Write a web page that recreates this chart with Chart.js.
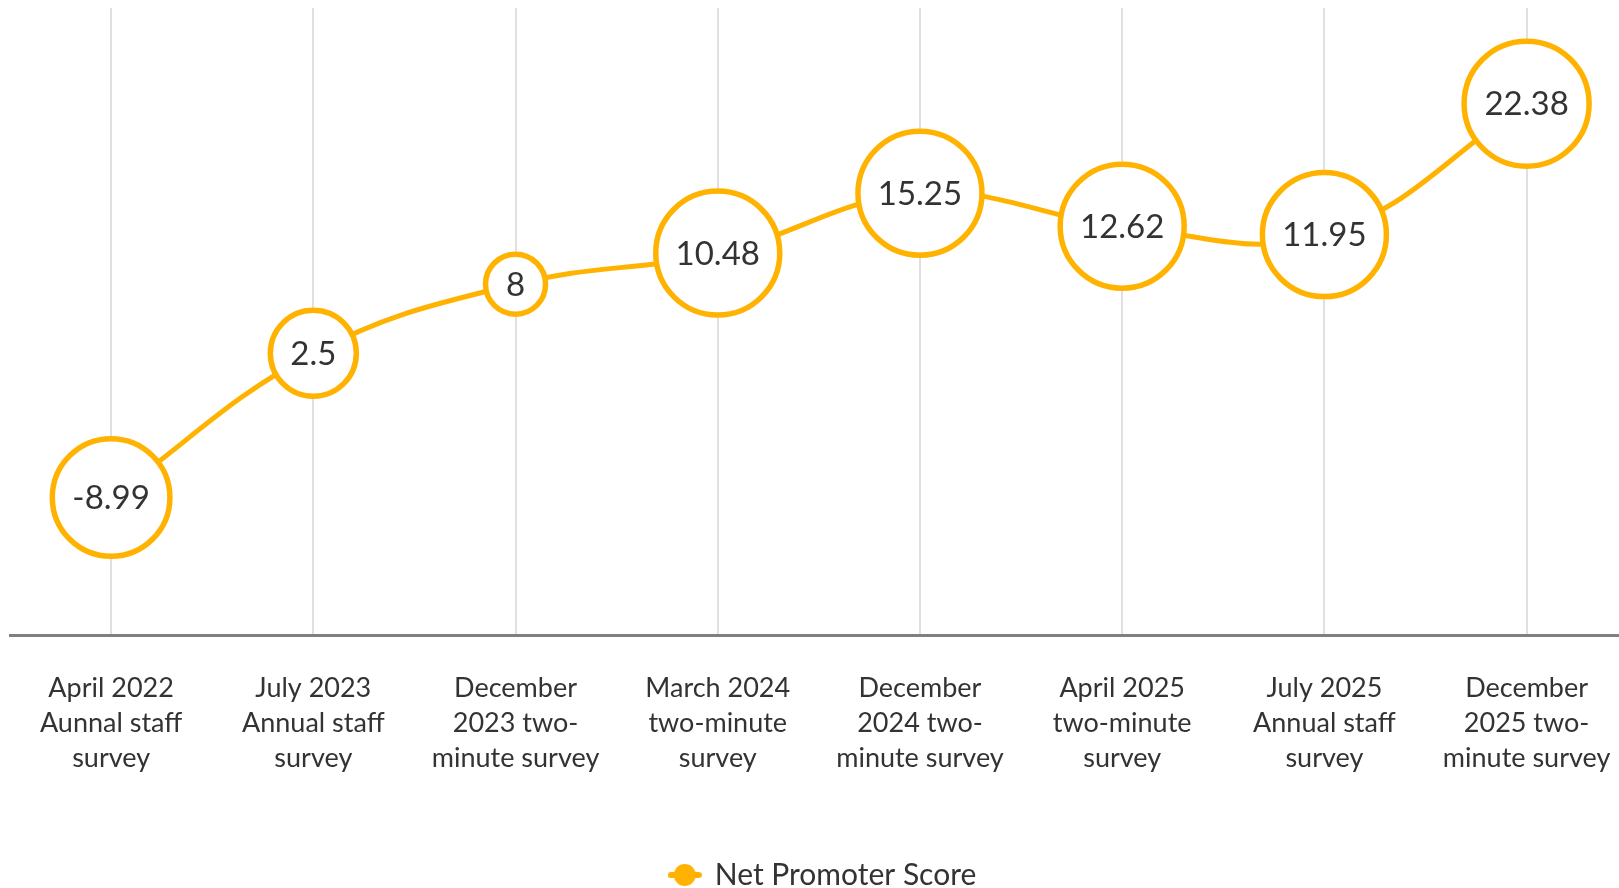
<!DOCTYPE html>
<html>
<head>
<meta charset="utf-8">
<script src="https://cdn.jsdelivr.net/npm/chart.js@4.4.1/dist/chart.umd.min.js"></script>
<style>
  html, body { margin: 0; padding: 0; background: #fff; overflow: hidden; }
  #wrap { position: relative; width: 1646px; height: 900px; }
</style>
</head>
<body>
<div id="wrap"><canvas id="c"></canvas></div>
<script>
const categories = [
  ["April 2022", "Aunnal staff", "survey"],
  ["July 2023", "Annual staff", "survey"],
  ["December", "2023 two-", "minute survey"],
  ["March 2024", "two-minute", "survey"],
  ["December", "2024 two-", "minute survey"],
  ["April 2025", "two-minute", "survey"],
  ["July 2025", "Annual staff", "survey"],
  ["December", "2025 two-", "minute survey"]
];
const npsValues = [-8.99, 2.5, 8, 10.48, 15.25, 12.62, 11.95, 22.38];
const seriesName = "Net Promoter Score";

const ORANGE = "#FFB300";
const TEXT = "#333333";
const FONT = "Lato, 'Open Sans', sans-serif";
const pointRadii = [58.8, 43, 30, 62, 62, 62, 62, 62.5];

// legend marker: short line with a filled dot
const marker = document.createElement("canvas");
marker.width = 34; marker.height = 24;
(function () {
  const m = marker.getContext("2d");
  m.strokeStyle = ORANGE; m.lineWidth = 6; m.lineCap = "round";
  m.beginPath(); m.moveTo(3, 12); m.lineTo(31, 12); m.stroke();
  m.fillStyle = ORANGE;
  m.beginPath(); m.arc(17, 12, 11, 0, Math.PI * 2); m.fill();
})();

const valueLabels = {
  id: "valueLabels",
  afterDatasetsDraw(chart) {
    const ctx = chart.ctx;
    const meta = chart.getDatasetMeta(0);
    ctx.save();
    ctx.fillStyle = TEXT;
    ctx.font = "33px " + FONT;
    ctx.textAlign = "center";
    ctx.textBaseline = "middle";
    meta.data.forEach((pt, i) => {
      ctx.fillText(String(chart.data.datasets[0].data[i]), pt.x, pt.y + 1);
    });
    ctx.restore();
  }
};

new Chart(document.getElementById("c"), {
  type: "line",
  data: {
    labels: categories,
    datasets: [{
      label: seriesName,
      data: npsValues,
      borderColor: ORANGE,
      borderWidth: 5,
      backgroundColor: ORANGE,
      pointBackgroundColor: "#ffffff",
      pointBorderColor: ORANGE,
      pointBorderWidth: 5.5,
      pointRadius: pointRadii,
      pointHoverRadius: pointRadii,
      tension: 0.4,
      clip: false
    }]
  },
  options: {
    responsive: true,
    maintainAspectRatio: false,
    animation: false,
    layout: { autoPadding: false, padding: { left: 10, right: 10, top: 8, bottom: 0 } },
    scales: {
      x: {
        offset: true,
        afterFit(scale) { scale.height += 39; },
        grid: { offset: false, color: "#e0e0e0", lineWidth: 2, drawTicks: false },
        border: { display: true, color: "#808080", width: 3 },
        ticks: {
          color: TEXT,
          font: { family: FONT, size: 27, lineHeight: 1.3 },
          padding: 35,
          maxRotation: 0,
          autoSkip: false
        }
      },
      y: {
        display: false,
        min: -20,
        max: 30
      }
    },
    plugins: {
      legend: {
        position: "bottom",
        labels: {
          color: TEXT,
          font: { family: FONT, size: 30 },
          usePointStyle: true,
          padding: 10,
          generateLabels(chart) {
            return [{
              text: seriesName,
              fontColor: TEXT,
              pointStyle: marker,
              datasetIndex: 0,
              hidden: false,
              lineWidth: 0
            }];
          }
        }
      },
      tooltip: { enabled: false }
    }
  },
  plugins: [valueLabels]
});
</script>
</body>
</html>
